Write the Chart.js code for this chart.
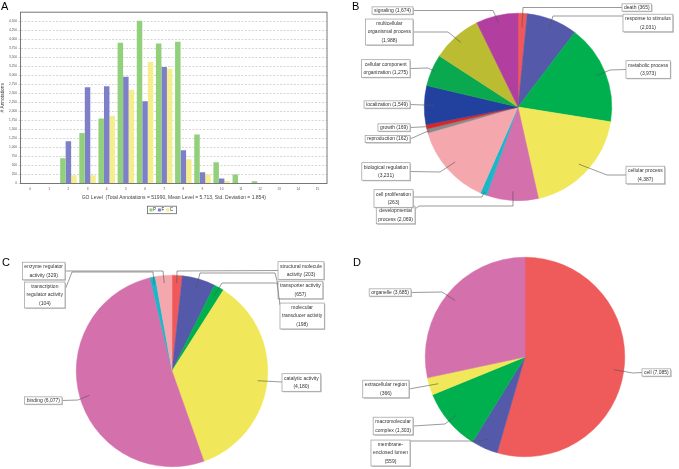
<!DOCTYPE html>
<html><head><meta charset="utf-8">
<script src="https://cdn.jsdelivr.net/npm/chart.js@4"></script>
<style>
html,body{margin:0;padding:0;background:#fff;}
#wrap{position:relative;width:679px;height:469px;overflow:hidden;background:#fff;}
canvas{position:absolute;left:0;top:0;}
.pl{position:absolute;font-family:"Liberation Sans",Arial,sans-serif;font-size:11px;line-height:11px;color:#000;}
</style></head><body>
<div id="wrap">
<canvas id="cA" width="679" height="469"></canvas>
<canvas id="cB" width="679" height="469"></canvas>
<canvas id="cC" width="679" height="469"></canvas>
<canvas id="cD" width="679" height="469"></canvas>
<div class="pl" style="left:1px;top:1px">A</div>
<div class="pl" style="left:352px;top:1px">B</div>
<div class="pl" style="left:2px;top:257px">C</div>
<div class="pl" style="left:353px;top:257px">D</div>
</div>
<script>
// ---------- data ----------
const goLevels = ['0','1','2','3','4','5','6','7','8','9','10','11','12','13','14','15'];
const seriesNames = ['P','F','C'];
const levelP = [0,0,700,1400,1800,3900,4510,3880,3930,1360,590,250,60,15,0,0];
const levelF = [0,0,1170,2670,2700,2960,2280,3230,920,310,140,0,0,0,0,0];
const levelC = [0,0,230,230,1880,2600,3370,3180,670,250,70,0,0,0,0,0];
const xAxisTitle = 'GO Level  (Total Annotations = 51990, Mean Level = 5.713, Std. Deviation = 1.854)';
const yAxisTitle = '# Annotations';

const bpCategories = ['death','response to stimulus','metabolic process','cellular process','developmental process','cell proliferation','biological regulation','reproduction','growth','localization','cellular component organization','multicellular organismal process','signaling'];
const bpValues = [365,2031,3973,4387,2069,263,3231,162,169,1549,1275,1988,1674];

const mfCategories = ['structural molecule activity','transporter activity','molecular transducer activity','catalytic activity','binding','transcription regulator activity','enzyme regulator activity'];
const mfValues = [203,657,198,4180,6077,104,329];

const ccCategories = ['cell','membrane-enclosed lumen','macromolecular complex','extracellular region','organelle'];
const ccValues = [7085,559,1303,366,3685];

// ---------- styles ----------
const FONT = '"Liberation Sans", Arial, sans-serif';
Chart.defaults.font.family = FONT;
const barColors = ['#93d07c','#7d80c8','#f5ee8c'];
const bpColors = ['#f0585a','#5459aa','#00b04f','#f0e85a','#d470ac','#1cb6c9','#f4a8ae','#8a8a8a','#d9262b','#22409e','#0aa84f','#bcbc32','#b23fa0'];
const mfColors = ['#f0585a','#5459aa','#00b04f','#f0e85a','#d470ac','#1cb6c9','#f4a8ae'];
const ccColors = ['#ef5a5a','#5459aa','#00b04f','#f0e85a','#d470ac'];
const W = 679, H = 469;

// ---------- bar chart plugins ----------
const frame = {id:'frame', afterDraw(chart){
  const a = chart.chartArea, ctx = chart.ctx;
  ctx.save(); ctx.strokeStyle='#777'; ctx.lineWidth=1;
  ctx.strokeRect(a.left, a.top, a.right-a.left, a.bottom-a.top);
  ctx.restore();
}};
const barLegend = {id:'barLegend', afterDraw(chart, args, o){
  const ctx = chart.ctx; ctx.save();
  ctx.font = '4.5px ' + FONT; ctx.textBaseline='middle';
  ctx.fillStyle='#fff'; ctx.fillRect(o.x, o.y, o.w, o.h);
  ctx.strokeStyle='#666'; ctx.lineWidth=0.8; ctx.strokeRect(o.x+0.5, o.y+0.5, o.w-1, o.h-1);
  let x = o.x + 2.5; const cy = o.y + o.h/2;
  chart.data.datasets.forEach(d=>{
    ctx.fillStyle = d.backgroundColor; ctx.fillRect(x, cy-1.5, 3, 3);
    x += 3.6; ctx.fillStyle='#333'; ctx.fillText(d.label, x, cy);
    x += ctx.measureText(d.label).width + 1.8;
  });
  ctx.restore();
}};

new Chart(document.getElementById('cA'), {
  type:'bar',
  data:{labels:goLevels, datasets:[
    {label:seriesNames[0], data:levelP, backgroundColor:barColors[0]},
    {label:seriesNames[1], data:levelF, backgroundColor:barColors[1]},
    {label:seriesNames[2], data:levelC, backgroundColor:barColors[2]}
  ]},
  options:{
    responsive:false, animation:false,
    layout:{padding:{left:0, top:12.2, right:W-327, bottom:H-200.9}},
    datasets:{bar:{categoryPercentage:0.86, barPercentage:1.0}},
    plugins:{legend:{display:false}, tooltip:{enabled:false},
      barLegend:{x:147, y:205.7, w:30, h:8.5}},
    scales:{
      x:{grid:{display:false, drawTicks:false}, border:{display:false},
         ticks:{font:{size:3.2}, color:'#555', padding:4, autoSkip:false, maxRotation:0},
         title:{display:true, text:xAxisTitle, font:{size:5}, color:'#444', padding:0},
         afterFit(s){ s.height = 17.4; }},
      y:{min:0, max:4750,
         ticks:{stepSize:250, font:{size:3.2}, color:'#555', padding:1.5, autoSkip:false,
                callback:v=>(v <= 4500 ? v.toLocaleString('en-US') : '')},
         grid:{color:(c)=>(c.tick && c.tick.value > 4500 ? 'rgba(0,0,0,0)' : '#c4c4c4'), lineWidth:0.7, tickLength:2, drawTicks:true},
         border:{display:false, dash:[2,1.5]},
         title:{display:true, text:yAxisTitle, font:{size:4.8}, color:'#444', padding:0},
         afterFit(s){ s.width = 20.5; }}
    }
  },
  plugins:[frame, barLegend]
});

// ---------- pie callouts ----------
function wordsOf(label, value){
  return label.replace(/-/g,'- ').split(/\s+/).filter(Boolean)
    .concat(['(' + value.toLocaleString('en-US') + ')']);
}
const callouts = {id:'callouts', afterDatasetsDraw(chart, args, o){
  const ctx = chart.ctx, meta = chart.getDatasetMeta(0), ds = chart.data.datasets[0];
  ctx.save();
  ctx.font = o.fontSize + 'px ' + FONT;
  ctx.textAlign='center'; ctx.textBaseline='middle';
  o.items.forEach((it, i)=>{
    const arc = meta.data[i];
    const p = arc.getProps(['x','y','startAngle','endAngle','outerRadius'], true);
    const mid = (p.startAngle + p.endAngle)/2, f = it.f ?? 0.9;
    const ax = p.x + Math.cos(mid)*p.outerRadius*f, ay = p.y + Math.sin(mid)*p.outerRadius*f;
    const words = wordsOf(chart.data.labels[i], ds.data[i]);
    const split = it.split || [words.length];
    const lines = []; let k = 0;
    split.forEach(n=>{ lines.push(words.slice(k, k+n).join(' ').replace(/- /g,'-')); k += n; });
    const tw = Math.max(...lines.map(l=>ctx.measureText(l).width));
    const n = lines.length, lh = 8.3;
    const w = tw + 4, h = n*lh + (n===1 ? -1 : 1);
    const bx = it.side==='L' ? it.x - w : it.x, by = it.y - h/2;
    // leader line
    ctx.strokeStyle='#555'; ctx.lineWidth=0.6;
    ctx.beginPath();
    ctx.moveTo(it.x, it.ly ?? it.y);
    (it.path || []).forEach(q=>ctx.lineTo(q[0], q[1]));
    ctx.lineTo(ax, ay); ctx.stroke();
    // box
    ctx.fillStyle='#c4c4c4'; ctx.fillRect(bx+1, by+1, w, h);
    ctx.fillStyle='#fff'; ctx.fillRect(bx, by, w, h);
    ctx.strokeStyle='#9a9a9a'; ctx.lineWidth=0.7; ctx.strokeRect(bx, by, w, h);
    ctx.fillStyle='#333';
    const cx = bx + w/2, y0 = it.y - (n-1)*lh/2;
    lines.forEach((l, j)=>ctx.fillText(l, cx, y0 + j*lh));
  });
  ctx.restore();
}};

function pie(id, cats, vals, colors, cx, cy, r, items){
  new Chart(document.getElementById(id), {
    type:'pie',
    data:{labels:cats, datasets:[{data:vals, backgroundColor:colors, borderColor:colors, borderWidth:0.5}]},
    options:{responsive:false, animation:false,
      layout:{padding:{left:cx-r, top:cy-r, right:W-(cx+r), bottom:H-(cy+r)}},
      plugins:{legend:{display:false}, tooltip:{enabled:false}, callouts:{fontSize:5, items}}},
    plugins:[callouts]
  });
}

pie('cB', bpCategories, bpValues, bpColors, 518, 107, 94, [
  {side:'R', x:622, y:7.5, path:[[523,7.5]], f:0.85},
  {side:'R', x:623, y:23, ly:16, path:[[553,16]], split:[3,1]},
  {side:'R', x:626, y:69.5, path:[[610,70]], split:[2,1]},
  {side:'R', x:626, y:175, path:[[607,175]], split:[2,1], f:0.89},
  {side:'L', x:415, y:215, ly:209, path:[[419,206],[513,206]], split:[1,2]},
  {side:'L', x:413, y:198.5, ly:197, path:[[482,197]], split:[2,1], f:0.97},
  {side:'L', x:410, y:171.5, path:[[440,172]], split:[2,1], f:0.89},
  {side:'L', x:410, y:139, path:[], f:0.98},
  {side:'L', x:410, y:127.5, path:[], f:0.99},
  {side:'L', x:410, y:104.5, path:[]},
  {side:'L', x:410, y:68.5, path:[[428,68]], split:[2,2], f:0.97},
  {side:'L', x:413, y:32, path:[[448,32]], split:[1,2,1], f:0.92},
  {side:'L', x:413, y:10.5, path:[[493,10.5]], f:0.92}
]);

pie('cC', mfCategories, mfValues, mfColors, 172, 371, 96, [
  {side:'R', x:278, y:270.5, path:[[177,271]], split:[2,2], f:0.92},
  {side:'R', x:278, y:290, ly:285, path:[[275,273],[200,273]], split:[2,1]},
  {side:'R', x:280, y:316, ly:305, path:[[277,283],[222,283]], split:[1,2,1]},
  {side:'R', x:282, y:382.5, ly:382, path:[], split:[2,1]},
  {side:'L', x:62, y:400.5, path:[[78,400]]},
  {side:'L', x:65, y:295, ly:290, path:[[72,272],[153,272]], split:[1,2,1], f:0.92},
  {side:'L', x:65, y:271, path:[[163,271]], split:[2,2], f:0.92}
]);

pie('cD', ccCategories, ccValues, ccColors, 525, 357, 100, [
  {side:'R', x:642, y:372.5, path:[[633,373]]},
  {side:'L', x:410, y:453, ly:441, path:[[480,441]], split:[1,2,1]},
  {side:'L', x:413, y:426, path:[[445,424]], split:[1,2]},
  {side:'L', x:409, y:389, path:[], split:[2,1], f:0.91},
  {side:'L', x:411, y:292.5, path:[[442,292]]}
]);
</script>
</body></html>
